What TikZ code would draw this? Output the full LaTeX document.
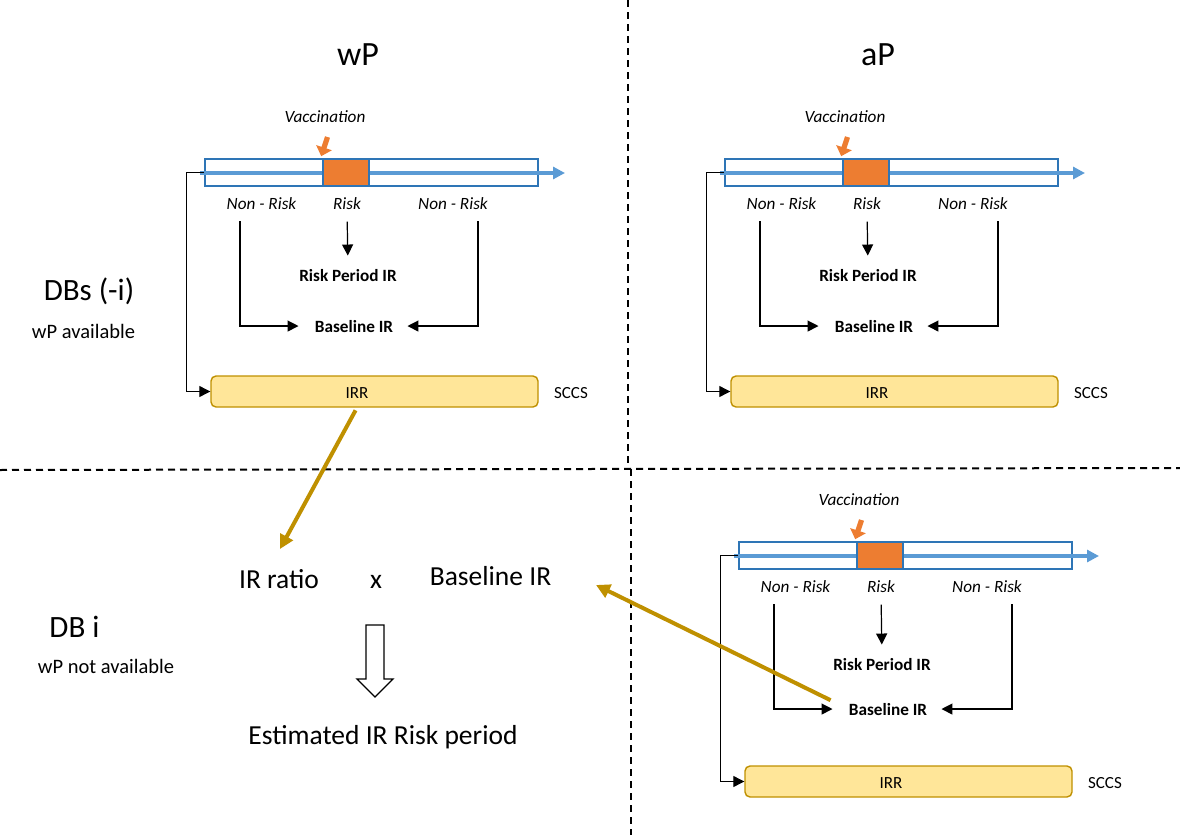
\documentclass[tikz,border=0pt]{standalone}
\usepackage{fontspec}
\setmainfont{Carlito}
\usetikzlibrary{arrows.meta}
\definecolor{tlblue}{HTML}{2E75B6}
\definecolor{arrblue}{HTML}{5B9BD5}
\definecolor{vorange}{HTML}{ED7D31}
\definecolor{irrfill}{HTML}{FFE699}
\definecolor{gold}{HTML}{BF9000}
\tikzset{
  txt/.style={anchor=base, inner sep=0pt},
  small/.style={txt, font=\fontsize{8.5pt}{10pt}\selectfont},
  smallit/.style={txt, font=\fontsize{8.6pt}{10pt}\selectfont\itshape},
  smallbf/.style={txt, font=\fontsize{8.6pt}{10pt}\selectfont\bfseries},
  bigtxt/.style={txt, font=\fontsize{13.75pt}{16pt}\selectfont},
  dbtxt/.style={txt, font=\fontsize{15.5pt}{18pt}\selectfont},
  titletxt/.style={txt, font=\fontsize{17pt}{20pt}\selectfont},
  subtxt/.style={txt, font=\fontsize{10.25pt}{12pt}\selectfont},
  tlbox/.style={draw=tlblue, line width=0.8pt, minimum width=166.5pt, minimum height=13.5pt, inner sep=0pt},
  riskbox/.style={draw=tlblue, line width=0.8pt, fill=vorange, minimum width=23pt, minimum height=13.5pt, inner sep=0pt},
  irrbox/.style={draw=gold, line width=0.7pt, fill=irrfill, rounded corners=2.5pt, minimum width=163.5pt, minimum height=15.5pt, inner sep=0pt},
  conn/.style={line width=0.6pt, -{Triangle[length=5.5pt,width=5.5pt]}},
  timeline/.style={arrblue, line width=2pt, -{Triangle[length=6pt,width=6pt]}},
  vaccarrow/.style={vorange, line width=2.6pt, -{Triangle[length=4.5pt,width=8pt]}},
  goldarrow/.style={gold, line width=2pt, -{Triangle[length=7pt,width=7pt]}},
  divider/.style={line width=1pt, dash pattern=on 3.5pt off 2.5pt},
}
\newcommand{\sccspanel}[5]{%
\begin{scope}[shift={(#1,#2)}, name prefix=#3-]
  \node[smallit] (vacc) at (325,122) {Vaccination};
  \node[tlbox] (box) at (371.5,172.5) {};
  \coordinate (ts) at (200,173);
  \coordinate (te) at (565,173);
  \draw[timeline] (ts) -- (te);
  \node[riskbox] (risk) at (346,172.5) {};
  \coordinate (va) at (327.5,137);
  \draw[vaccarrow] (va) -- ([xshift=-0.5pt,yshift=1pt]risk.north west);
  \node[smallit] (nr1) at (261.5,209) {Non - Risk};
  \node[smallit] (rk) at (347,209) {Risk};
  \node[smallit] (nr2) at (453,209) {Non - Risk};
  \node[smallbf] (rpir) at (348,281+#4) {Risk Period IR};
  \node[smallbf] (bir) at (354,332) {Baseline IR};
  \node[irrbox] (irr) at (374.5,391.5+#5) {};
  \node[small] (irrt) at (357,398+#5) {IRR};
  \node[small] (sccs) at (571,398+#5) {SCCS};
  \coordinate (nl) at (240,221);
  \coordinate (nr) at (478,221);
  \draw[conn, shorten >=8pt] (nl) |- (bir.west);
  \draw[conn, shorten >=7pt] (nr) |- (bir.east);
  \draw[conn, shorten <=6pt, shorten >=6.5pt] (rk.south) -- (rpir.north);
  \draw[conn] (box.west) -- ++(-18,0) |- (irr.west);
\end{scope}}
\begin{document}
\begin{tikzpicture}[x=0.5pt, y=-0.5pt]
\useasboundingbox (0,0) rectangle (1180,835);
% dividers
\coordinate (dvt) at (628,0);
\coordinate (dvm) at (628,469);
\coordinate (dvm2) at (631,469);
\coordinate (dvb) at (631,835);
\coordinate (dhl) at (0,470);
\coordinate (dhr) at (1180,468);
\draw[divider] (dvt) -- (dvm);
\draw[divider] (dvm2) -- (dvb);
\draw[divider] (dhl) -- (dhr);
% titles
\node[titletxt] (wp) at (358,65) {wP};
\node[titletxt] (ap) at (878,65) {aP};
\node[dbtxt] (dbs) at (89,300) {DBs (-i)};
\node[subtxt] (wpa) at (83.5,338) {wP available};
\node[dbtxt] (dbi) at (74.5,637) {DB i};
\node[subtxt] (wpna) at (106,673) {wP not available};
% panels
\sccspanel{0}{0}{tl}{0}{0}
\sccspanel{520}{0}{tr}{0}{0}
\sccspanel{534}{383}{br}{6}{7}
% bottom-left computation
\node[bigtxt] (irratio) at (279,588) {IR ratio};
\node[bigtxt] (times) at (376,588) {x};
\node[bigtxt] (blir) at (490.5,585) {Baseline IR};
\node[bigtxt] (est) at (383,744) {Estimated IR Risk period};
\draw[line width=0.7pt, line join=miter] (366,625) -- (384,625) -- (384,679) -- (393,679) -- (375,697) -- (357,679) -- (366,679) -- cycle;
% gold arrows
\coordinate (g1) at (280,549);
\coordinate (g2) at (596,585);
\draw[goldarrow, shorten <=1.5pt] (tl-irr.south -| tl-irrt) -- (g1);
\draw[goldarrow, shorten <=10pt] (br-bir.west) -- (g2);
\end{tikzpicture}
\end{document}
